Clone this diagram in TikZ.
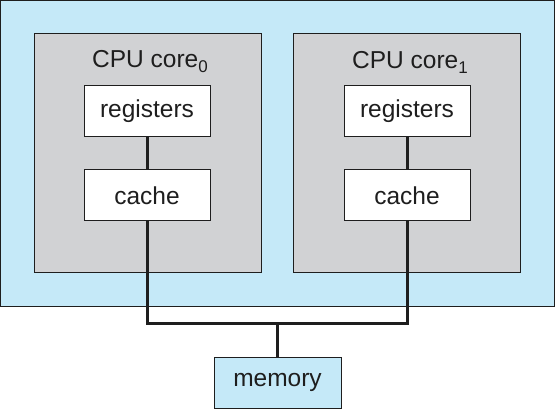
\documentclass[tikz,border=0pt]{standalone}
\usepackage{fontspec}
\setmainfont{Liberation Sans}
\definecolor{boardblue}{RGB}{197,233,248}
\definecolor{coregray}{RGB}{209,210,212}
\definecolor{inkdark}{RGB}{30,30,30}
\newcommand{\coresub}[1]{\raisebox{-5pt}{\fontsize{17}{17}\selectfont #1}}
\tikzset{
  unit/.style={draw=inkdark, line width=1pt, fill=white, minimum width=126pt, minimum height=51pt, inner sep=0pt, font=\fontsize{24.5}{28}\selectfont, text=inkdark},
  core/.style={draw=inkdark, line width=1pt, fill=coregray, minimum width=227pt, minimum height=239pt, inner sep=0pt},
  bus/.style={draw=inkdark, line width=3pt}
}
\begin{document}
\begin{tikzpicture}[x=1pt,y=-1pt]
\useasboundingbox (0,0) rectangle (555,409);
\node[draw=inkdark, line width=1.5pt, fill=boardblue, minimum width=554pt, minimum height=306pt, inner sep=0pt] (board) at (277.5,153.5) {};

\node[core] (c0) at (147.5,153.5) {};
\node[core] (c1) at (407,153.5) {};
\node[font=\fontsize{24.5}{28}\selectfont, text=inkdark] (t0) at (150,62) {CPU core\coresub{0}};
\node[font=\fontsize{24.5}{28}\selectfont, text=inkdark] (t1) at (410,62) {CPU core\coresub{1}};

\node[unit] (r0) at (147,111) {registers};
\node[unit] (k0) at (147,195.5) {cache};
\node[unit] (r1) at (407,111) {registers};
\node[unit] (k1) at (407,195.5) {cache};

\node[unit, fill=boardblue, minimum width=127pt] (mem) at (277.5,382.5) {memory};
\coordinate (mid) at (277.5,323);

\path[bus] (r0) -- (k0);
\path[bus] (r1) -- (k1);
\path[bus] (k0.south) |- (mid) -| (k1.south);
\path[bus] (mid) -- (mem);
\end{tikzpicture}
\end{document}
